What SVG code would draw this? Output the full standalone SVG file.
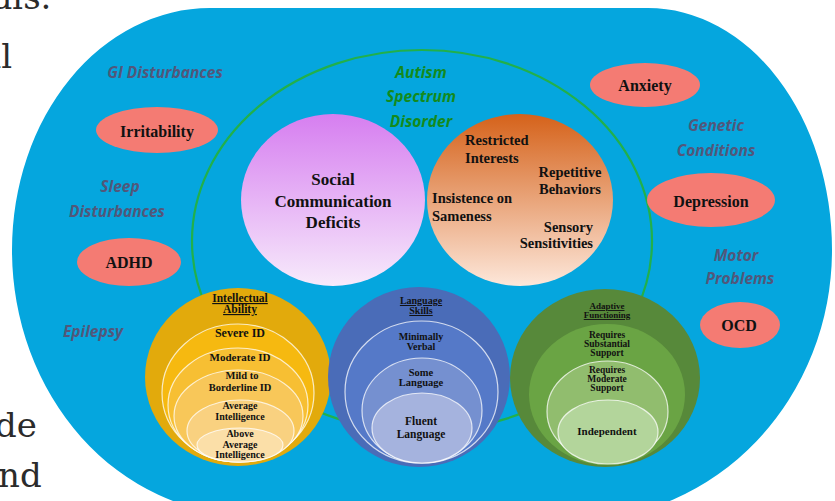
<svg xmlns="http://www.w3.org/2000/svg" width="835" height="501" viewBox="0 0 835 501">
<defs>
<linearGradient id="gPink" x1="0" y1="0" x2="0" y2="1"><stop offset="0" stop-color="#D67EF0"/><stop offset="1" stop-color="#F7EAFB"/></linearGradient>
<linearGradient id="gOrange" x1="0" y1="0" x2="0" y2="1"><stop offset="0" stop-color="#D5621A"/><stop offset="1" stop-color="#FDE7DA"/></linearGradient>
<style>
.bg{fill:#05A6DE}
.frag{font-family:"DejaVu Serif",serif;font-size:34px;fill:#2b2b2b}
.gray{font-family:"Open Sans",Lato,sans-serif;font-weight:700;font-style:italic;font-size:15.5px;fill:#52577A;text-anchor:middle}
.asd{font-family:"Open Sans",Lato,sans-serif;font-weight:700;font-style:italic;font-size:15.5px;fill:#148A1C;text-anchor:middle}
.red{fill:#F47B73}
.lab{font-family:"Liberation Serif","Times New Roman",serif;font-weight:700;fill:#111;text-anchor:middle}
.ring{stroke:#ffffff;stroke-opacity:0.75;stroke-width:1.2}
.u{text-decoration:underline}
</style>
</defs>
<rect width="835" height="501" fill="#ffffff"/>
<g id="fragments">
<text class="frag" x="-8" y="9">als.</text>
<text class="frag" x="-19" y="68">al</text>
<text class="frag" x="-5" y="437">de</text>
<text class="frag" x="-2" y="487">nd</text>
</g>
<path id="background" class="bg" d="M 210,8 H 648 A 184 242 0 0 1 832 250 A 257 270 0 0 1 575 520 L 249 515 A 237 265 0 0 1 12 250 A 198 242 0 0 1 210 8 Z"/>
<g id="asd">
<ellipse cx="422" cy="241" rx="230" ry="191" fill="none" stroke="#22B04A" stroke-width="2.2"/>
<text class="asd" x="421" y="78">Autism</text>
<text class="asd" x="421" y="102">Spectrum</text>
<text class="asd" x="421" y="127">Disorder</text>
</g>
<g id="labels">
<text class="gray" x="165" y="78">GI Disturbances</text>
<text class="gray" x="120" y="192">Sleep</text>
<text class="gray" x="117" y="217">Disturbances</text>
<text class="gray" x="93" y="337">Epilepsy</text>
<text class="gray" x="716" y="131">Genetic</text>
<text class="gray" x="716" y="156">Conditions</text>
<text class="gray" x="736" y="261">Motor</text>
<text class="gray" x="740" y="284">Problems</text>
</g>
<g id="irritability"><ellipse class="red" cx="157" cy="130" rx="61" ry="23"/><text class="lab" x="157" y="137" font-size="16">Irritability</text></g>
<g id="adhd"><ellipse class="red" cx="129" cy="262" rx="52" ry="24"/><text class="lab" x="129" y="268" font-size="16">ADHD</text></g>
<g id="anxiety"><ellipse class="red" cx="645" cy="85" rx="55" ry="22"/><text class="lab" x="645" y="91" font-size="16">Anxiety</text></g>
<g id="depression"><ellipse class="red" cx="711" cy="200" rx="64" ry="27"/><text class="lab" x="711" y="207" font-size="16">Depression</text></g>
<g id="ocd"><ellipse class="red" cx="740" cy="325" rx="40" ry="23"/><text class="lab" x="739" y="331" font-size="16">OCD</text></g>
<g id="social">
<ellipse cx="333" cy="200" rx="92" ry="86" fill="url(#gPink)"/>
<text class="lab" x="333" y="185" font-size="17">Social</text>
<text class="lab" x="333" y="207" font-size="17">Communication</text>
<text class="lab" x="333" y="228" font-size="17">Deficits</text>
</g>
<g id="rrb" font-size="14.5">
<ellipse cx="520" cy="200" rx="93" ry="86" fill="url(#gOrange)"/>
<text class="lab" x="465" y="145" style="text-anchor:start">Restricted</text>
<text class="lab" x="465" y="163" style="text-anchor:start">Interests</text>
<text class="lab" x="570" y="177">Repetitive</text>
<text class="lab" x="570" y="194">Behaviors</text>
<text class="lab" x="432" y="203" style="text-anchor:start">Insistence on</text>
<text class="lab" x="432" y="221" style="text-anchor:start">Sameness</text>
<text class="lab" x="593" y="232" style="text-anchor:end">Sensory</text>
<text class="lab" x="593" y="248" style="text-anchor:end">Sensitivities</text>
</g>
<g id="intellectual">
<ellipse cx="238" cy="377" rx="93" ry="89" fill="#E2AA0C"/>
<ellipse class="ring" cx="238" cy="393" rx="76" ry="69" fill="#F6B910"/>
<ellipse class="ring" cx="238" cy="405" rx="70" ry="57" fill="#F7BF33"/>
<ellipse class="ring" cx="238.5" cy="416" rx="64.5" ry="46" fill="#F8C759"/>
<ellipse class="ring" cx="240.5" cy="431" rx="53.5" ry="31" fill="#F9D180"/>
<ellipse class="ring" cx="240" cy="445" rx="43" ry="17" fill="#FBDFA8"/>
<text class="lab u" x="240" y="302" font-size="11.5">Intellectual</text>
<text class="lab u" x="240" y="313" font-size="11.5">Ability</text>
<text class="lab" x="240" y="337" font-size="12">Severe ID</text>
<text class="lab" x="240" y="361" font-size="11">Moderate ID</text>
<text class="lab" x="242" y="379" font-size="10.5">Mild to</text>
<text class="lab" x="240" y="391" font-size="10.5">Borderline ID</text>
<text class="lab" x="240" y="409" font-size="10">Average</text>
<text class="lab" x="240" y="420" font-size="10">Intelligence</text>
<text class="lab" x="240" y="437" font-size="10">Above</text>
<text class="lab" x="240" y="448" font-size="10">Average</text>
<text class="lab" x="240" y="458" font-size="10">Intelligence</text>
</g>
<g id="language">
<ellipse cx="419" cy="377" rx="91" ry="90" fill="#4A6CB8"/>
<ellipse class="ring" cx="421.5" cy="392" rx="76.5" ry="71" fill="#5579C8"/>
<ellipse class="ring" cx="422" cy="410.5" rx="60" ry="52.5" fill="#7590D0"/>
<ellipse class="ring" cx="422" cy="428" rx="50" ry="35" fill="#A5B3DE"/>
<text class="lab u" x="421" y="304" font-size="10">Language</text>
<text class="lab u" x="421" y="314" font-size="10">Skills</text>
<text class="lab" x="421" y="340" font-size="10">Minimally</text>
<text class="lab" x="421" y="350" font-size="10">Verbal</text>
<text class="lab" x="421" y="376" font-size="10.5">Some</text>
<text class="lab" x="421" y="386" font-size="10.5">Language</text>
<text class="lab" x="421" y="425" font-size="11.5">Fluent</text>
<text class="lab" x="421" y="438" font-size="11.5">Language</text>
</g>
<g id="adaptive">
<ellipse cx="605" cy="378" rx="95" ry="89" fill="#57893A"/>
<ellipse cx="607" cy="394.5" rx="78" ry="70.5" fill="#6AA444"/>
<ellipse class="ring" cx="607.5" cy="411.5" rx="60.5" ry="50.5" fill="#91BD6E"/>
<ellipse class="ring" cx="608" cy="432" rx="50" ry="32" fill="#B3D59B"/>
<text class="lab u" x="607" y="309" font-size="9">Adaptive</text>
<text class="lab u" x="607" y="318" font-size="9">Functioning</text>
<text class="lab" x="607" y="338" font-size="9.5">Requires</text>
<text class="lab" x="607" y="347" font-size="9.5">Substantial</text>
<text class="lab" x="607" y="356" font-size="9.5">Support</text>
<text class="lab" x="607" y="373" font-size="9.5">Requires</text>
<text class="lab" x="607" y="382" font-size="9.5">Moderate</text>
<text class="lab" x="607" y="391" font-size="9.5">Support</text>
<text class="lab" x="607" y="435" font-size="11">Independent</text>
</g>
</svg>
